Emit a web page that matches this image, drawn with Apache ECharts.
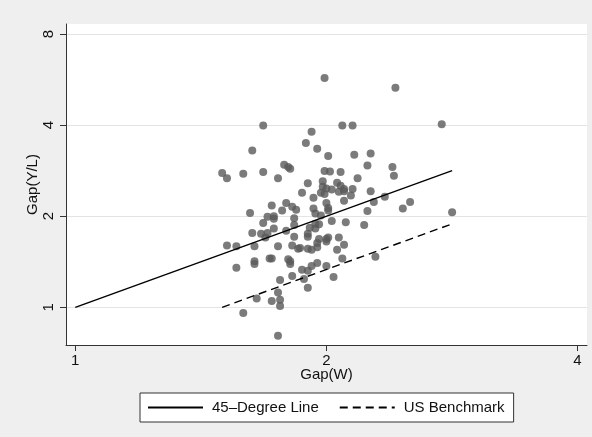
<!DOCTYPE html>
<html>
<head>
<meta charset="utf-8">
<script src="https://cdn.jsdelivr.net/npm/echarts@6/dist/echarts.min.js"></script>
<style>
  html, body { margin: 0; padding: 0; background: #efefef; }
  #chart { width: 592px; height: 437px; }
</style>
</head>
<body>
<div id="chart"></div>
<script>
// Wage gap vs. output-per-worker gap (both on log2 scales)
const xTicks = [1, 2, 4];
const yTicks = [1, 2, 4, 8];

const gapW = [
  1.99, 2.42, 1.68, 2.09, 2.15, 2.75, 1.92, 1.89, 1.95, 1.63,
  2.01, 2.16, 2.26, 1.78, 1.80, 1.81, 2.24, 2.40, 1.50, 1.52,
  1.59, 1.68, 1.75, 1.99, 2.02, 2.08, 2.18, 2.41, 1.90, 1.98,
  2.06, 2.08, 1.98, 2.00, 2.03, 2.10, 2.15, 2.10, 2.07, 2.26,
  2.14, 1.87, 1.97, 1.99, 1.93, 2.35, 2.28, 2.10, 2.52, 1.72,
  1.79, 1.82, 1.84, 1.77, 1.93, 2.00, 2.01, 1.94, 1.97, 2.01,
  1.62, 2.24, 2.47, 2.83, 1.70, 1.73, 1.73, 1.83, 1.68, 1.83,
  2.03, 2.11, 2.22, 1.94, 1.96, 1.91, 1.94, 1.73, 1.63, 1.67,
  1.70, 1.79, 1.69, 1.83, 1.90, 1.90, 2.07, 2.00, 2.01, 1.96,
  1.95, 2.00, 1.52, 1.56, 1.64, 1.75, 1.82, 1.85, 1.86, 1.90,
  1.92, 1.95, 2.10, 2.06,
  1.71, 1.72, 1.80, 1.81, 1.81, 1.64, 1.64, 1.56, 2.09, 2.29,
  1.95, 1.92, 1.87, 2.00, 1.90, 1.82, 1.88, 2.04, 1.76, 1.90,
  1.75, 1.65, 1.72, 1.76, 1.76, 1.59, 1.75
];
const gapYL = [
  5.72, 5.32, 3.99, 3.99, 3.99, 4.03, 3.80, 3.49, 3.34, 3.30,
  3.16, 3.19, 3.22, 2.96, 2.91, 2.87, 2.94, 2.91, 2.78, 2.67,
  2.76, 2.80, 2.67, 2.82, 2.81, 2.80, 2.67, 2.72, 2.57, 2.61,
  2.58, 2.52, 2.50, 2.47, 2.45, 2.46, 2.46, 2.42, 2.41, 2.42,
  2.34, 2.39, 2.39, 2.37, 2.30, 2.32, 2.23, 2.25, 2.23, 2.17,
  2.21, 2.15, 2.10, 2.09, 2.12, 2.21, 2.13, 2.04, 2.01, 2.09,
  2.05, 2.08, 2.12, 2.06, 1.99, 2.00, 1.96, 1.97, 1.90, 1.87,
  1.93, 1.91, 1.87, 1.89, 1.88, 1.83, 1.82, 1.82, 1.76, 1.75,
  1.76, 1.79, 1.70, 1.71, 1.71, 1.75, 1.70, 1.68, 1.70, 1.68,
  1.63, 1.65, 1.60, 1.59, 1.59, 1.59, 1.60, 1.56, 1.57, 1.56,
  1.55, 1.58, 1.61, 1.55,
  1.45, 1.45, 1.44, 1.42, 1.39, 1.42, 1.39, 1.35, 1.45, 1.47,
  1.40, 1.37, 1.33, 1.37, 1.32, 1.27, 1.24, 1.26, 1.23, 1.16,
  1.12, 1.07, 1.05, 1.06, 1.01, 0.957, 0.806
];

// Reference lines: 45-degree (Y/L gap = W gap) and US benchmark
const line45W = [1, 2.83];
const line45YL = [1, 2.83];
const benchW = [1.5, 2.81];
const benchYL = [1.0, 1.873];

const lg = v => Math.log2(v);
const fmt = v => String(Math.round(Math.pow(2, v)));
const FONT = '"Liberation Sans", Arial, Helvetica, sans-serif';

const chart = echarts.init(document.getElementById('chart'), null, { renderer: 'canvas' });

chart.setOption({
  backgroundColor: '#efefef',
  animation: false,
  textStyle: { fontFamily: FONT },
  grid: {
    left: 66, right: 5, top: 24, bottom: 92,
    show: true, backgroundColor: '#ffffff', borderWidth: 0
  },
  xAxis: {
    type: 'value',
    min: -0.037, max: 2.038,
    name: 'Gap(W)', nameLocation: 'middle', nameGap: 22, nameMoveOverlap: false,
    nameTextStyle: { fontSize: 15, color: '#111', fontFamily: FONT },
    axisLine: { show: true, onZero: false, lineStyle: { color: '#333', width: 1 } },
    axisTick: { show: true, length: 6, customValues: xTicks.map(lg), lineStyle: { color: '#333' } },
    axisLabel: { customValues: xTicks.map(lg), formatter: fmt, fontSize: 15, color: '#111', margin: 8, fontFamily: FONT },
    splitLine: { show: false }
  },
  yAxis: {
    type: 'value',
    min: -0.414, max: 3.110,
    name: 'Gap(Y/L)', nameLocation: 'middle', nameGap: 26, nameRotate: 90, nameMoveOverlap: false,
    nameTextStyle: { fontSize: 15, color: '#111', fontFamily: FONT },
    axisLine: { show: true, onZero: false, lineStyle: { color: '#333', width: 1 } },
    axisTick: { show: true, length: 6, customValues: yTicks.map(lg), lineStyle: { color: '#333' } },
    axisLabel: { customValues: yTicks.map(lg), formatter: fmt, rotate: 90, fontSize: 15, color: '#111', margin: 10, fontFamily: FONT },
    splitLine: { show: true, lineStyle: { color: '#e4e4e4', width: 1 } }
  },
  legend: {
    data: ['45\u2013Degree Line', 'US Benchmark'],
    left: 140, top: 393,
    backgroundColor: '#ffffff', borderColor: '#333', borderWidth: 1, borderRadius: 0,
    padding: [7, 9, 7, 7],
    itemWidth: 55, itemHeight: 14, itemGap: 20,
    itemStyle: { opacity: 0 },
    textStyle: { fontSize: 15, color: '#111', fontFamily: FONT, padding: [0, 0, 0, 4] }
  },
  series: [
    {
      name: 'countries',
      type: 'scatter',
      symbol: 'circle', symbolSize: 8,
      itemStyle: { color: '#5a5a5a' },
      data: gapW.map((w, i) => [lg(w), lg(gapYL[i])]),
      z: 3
    },
    {
      name: '45\u2013Degree Line',
      type: 'line',
      symbol: 'none',
      itemStyle: { color: '#000' },
      lineStyle: { color: '#000', width: 1.4, type: 'solid' },
      data: line45W.map((w, i) => [lg(w), lg(line45YL[i])]),
      z: 4
    },
    {
      name: 'US Benchmark',
      type: 'line',
      symbol: 'none',
      itemStyle: { color: '#000' },
      lineStyle: { color: '#000', width: 1.4, type: [8, 5] },
      data: benchW.map((w, i) => [lg(w), lg(benchYL[i])]),
      z: 4
    }
  ]
});
</script>
</body>
</html>
